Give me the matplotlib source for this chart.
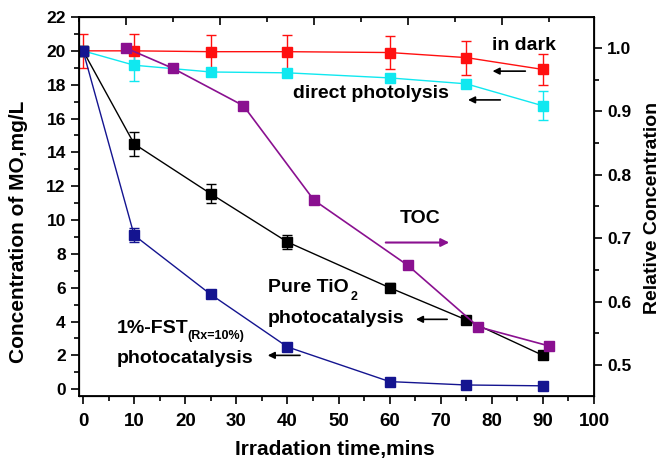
import matplotlib.pyplot as plt
from matplotlib.ticker import MultipleLocator

plt.rcParams["font.family"] = ["Liberation Sans", "DejaVu Sans"]
plt.rcParams["font.weight"] = "bold"

# irradiation times (min)
t = [0, 10, 25, 40, 60, 75, 90]

# MO concentration, mg/L
dark = [20.0, 20.0, 19.95, 19.95, 19.9, 19.6, 18.9]
dark_err = [1.0, 1.0, 1.0, 1.0, 1.0, 1.0, 0.9]
photolysis = [20.0, 19.15, 18.75, 18.7, 18.4, 18.05, 16.75]
photolysis_err = [0.0, 0.95, 0.0, 0.0, 0.0, 0.0, 0.85]
tio2 = [20.0, 14.5, 11.55, 8.7, 6.0, 4.1, 2.0]
tio2_err = [0.0, 0.7, 0.55, 0.4, 0.25, 0.0, 0.0]
fst = [20.0, 9.1, 5.6, 2.5, 0.45, 0.25, 0.2]
fst_err = [0.0, 0.4, 0.0, 0.0, 0.0, 0.0, 0.0]

# TOC (relative), own time scale on the top axis
toc_t = [1, 2, 3.5, 5, 7, 8.5, 10]
toc = [1.0, 0.968, 0.909, 0.76, 0.657, 0.560, 0.530]

fig = plt.figure(figsize=(6.62, 4.62), dpi=100)
ax = fig.add_axes([0.1193, 0.1429, 0.778, 0.8203])

def series(y, err, color):
    ax.errorbar(t, y, yerr=err, color=color, lw=1, marker="s", ms=7,
                mec=color, mfc=color, capsize=3.5, elinewidth=1, capthick=1)

series(dark, dark_err, "#ff1010")
series(photolysis, photolysis_err, "#10e8f0")
series(tio2, tio2_err, "black")
series(fst, fst_err, "#141490")

ax.set_xlim(-0.8, 100)
ax.set_ylim(-0.4, 22)
ax.xaxis.set_major_locator(MultipleLocator(10))
ax.xaxis.set_minor_locator(MultipleLocator(5))
ax.yaxis.set_major_locator(MultipleLocator(2))
ax.yaxis.set_minor_locator(MultipleLocator(1))
ax.tick_params(which="both", direction="out", width=1.2, labelsize=12.5)
ax.tick_params(axis="x", labelsize=13.5, pad=6)
ax.tick_params(which="major", length=6)
ax.tick_params(which="minor", length=3.5)
for s in ax.spines.values():
    s.set_linewidth(1.3)
ax.set_xlabel("Irradation time,mins", fontsize=15, fontweight="bold", va="center")
ax.xaxis.set_label_coords(0.497, -0.1425)
ax.set_ylabel("Concentration of MO,mg/L", fontsize=15, fontweight="bold", va="center")
ax.yaxis.set_label_coords(-0.118, 0.433)

# TOC on twin axes (top x, right y)
axr = ax.twinx()
ax2 = axr.twiny()
ax2.plot(toc_t, toc, color="#8a1090", lw=1.2, marker="s", ms=7)
ax2.set_xlim(0, 10.96)
ax2.xaxis.set_major_locator(MultipleLocator(2, offset=1))
ax2.xaxis.set_minor_locator(MultipleLocator(1))
ax2.tick_params(axis="x", which="both", direction="in", labeltop=False)
ax2.tick_params(axis="x", which="major", length=6, width=1.2)
ax2.tick_params(axis="x", which="minor", length=3.5, width=1.2)
axr.set_ylim(0.451, 1.049)
axr.yaxis.set_major_locator(MultipleLocator(0.1))
axr.yaxis.set_minor_locator(MultipleLocator(0.05))
axr.tick_params(which="both", direction="out", width=1.2, labelsize=12.5)
axr.tick_params(which="major", length=6)
axr.tick_params(which="minor", length=3.5)
axr.set_ylabel("Relative Concentration", fontsize=14, fontweight="bold", va="center")
axr.yaxis.set_label_coords(1.1126, 0.496)

# annotations with arrows pointing to the axis each curve belongs to
fs = 14

def arrow(x_head, x_tail, y, color="black", lw=1.2, ms=10):
    ax.annotate("", xy=(x_head, y), xytext=(x_tail, y),
                arrowprops=dict(arrowstyle="-|>", color=color, lw=lw, mutation_scale=ms))

ax.text(80, 20.06, "in dark", fontsize=fs, fontweight="bold")
arrow(79.6, 87.1, 18.8)
ax.text(41.1, 17.2, "direct photolysis", fontsize=fs, fontweight="bold")
arrow(74.8, 82.2, 17.1)
ax.text(62, 9.8, "TOC", fontsize=fs, fontweight="bold")
arrow(72.2, 58.7, 8.67, color="#8a1090", lw=1.5, ms=12)
ax.text(36.2, 5.72, "Pure TiO", fontsize=fs, fontweight="bold")
ax.text(52.4, 5.3, "2", fontsize=9, fontweight="bold")
ax.text(36.2, 3.9, "photocatalysis", fontsize=fs, fontweight="bold")
arrow(64.6, 71.8, 4.13)
ax.text(6.65, 3.3, "1%-FST", fontsize=fs, fontweight="bold")
ax.text(20.5, 2.95, "(Rx=10%)", fontsize=9, fontweight="bold")
ax.text(6.65, 1.53, "photocatalysis", fontsize=fs, fontweight="bold")
arrow(35.6, 43, 2.0)

fig.savefig("out.png", dpi=100)
